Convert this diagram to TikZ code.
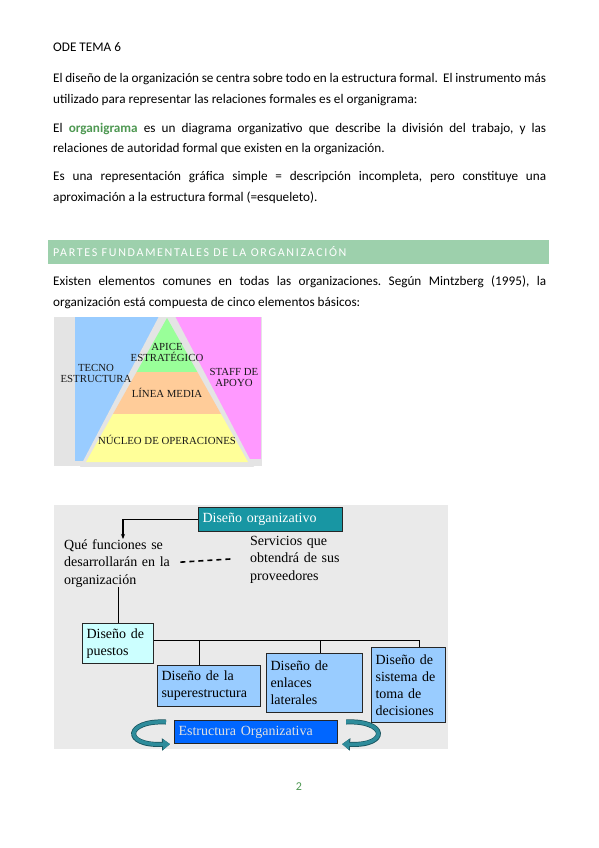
\documentclass[tikz,border=0pt]{standalone}
\usepackage{fontspec}
\setmainfont{Carlito}
\newfontfamily\tnr{Liberation Serif}
\newfontfamily\headfont[LetterSpace=14]{Carlito}
\usetikzlibrary{arrows.meta,calc}
\definecolor{hdrgreen}{RGB}{157,208,172}
\definecolor{orggreen}{RGB}{78,152,82}
\definecolor{pyrbg}{RGB}{228,228,228}
\definecolor{pyrblue}{RGB}{153,204,255}
\definecolor{pyrpink}{RGB}{255,153,255}
\definecolor{pyrgreen}{RGB}{153,255,153}
\definecolor{pyrorange}{RGB}{255,204,153}
\definecolor{pyryellow}{RGB}{255,255,153}
\definecolor{diagbg}{RGB}{234,234,234}
\definecolor{tealbox}{RGB}{24,150,163}
\definecolor{cyanbox}{RGB}{204,255,255}
\definecolor{bluebox}{RGB}{153,204,255}
\definecolor{strongblue}{RGB}{0,102,255}
\definecolor{arrteal}{RGB}{46,140,155}
\definecolor{arrdark}{RGB}{25,85,95}
\tikzset{
  body/.style={anchor=base west, inner sep=0pt, font=\fontsize{13.2}{15}\selectfont},
  pyrtext/.style={inner sep=0pt, align=center, font=\tnr\fontsize{10.8}{12}\selectfont, text=black!90},
  dtext/.style={inner sep=0pt, anchor=north west, align=left, font=\tnr\fontsize{14}{17.5}\selectfont},
  orgbox/.style={draw=black!85, line width=1.1pt, inner xsep=4pt, inner ysep=3pt, anchor=north west, align=left, font=\tnr\fontsize{14}{17}\selectfont},
  link/.style={draw=black, line width=1.1pt},
  roundarr/.style={draw=arrteal, line width=3.5pt, -{Triangle[length=7pt,width=10pt]}, preaction={draw=arrdark, line width=5pt, -{Triangle[length=8pt,width=12pt]}}}
}
\newcommand{\jline}[1]{\makebox[493pt][s]{#1}}
\frenchspacing
\begin{document}
\begin{tikzpicture}[x=1pt,y=-1pt]
\useasboundingbox[fill=white] (0,0) rectangle (599,848);

% ---------- text block ----------
\node[body] (title) at (53,52) {ODE TEMA 6};
\node[body] (p1a) at (53,83) {\jline{El diseño de la organización se centra sobre todo en la estructura formal.\ \ El instrumento más}};
\node[body] (p1b) at (53,104) {utilizado para representar las relaciones formales es el organigrama:};
\node[body] (p2a) at (53,132) {\jline{El \textcolor{orggreen}{\bfseries organigrama} es un diagrama organizativo que describe la división del trabajo, y las}};
\node[body] (p2b) at (53,153) {relaciones de autoridad formal que existen en la organización.};
\node[body] (p3a) at (53,180) {\jline{Es una representación gráfica simple = descripción incompleta, pero constituye una}};
\node[body] (p3b) at (53,201) {aproximación a la estructura formal (=esqueleto).};

% header band
\fill[hdrgreen] (48,240) rectangle (549,264);
\node[anchor=base west, inner sep=0pt, text=white, font=\headfont\fontsize{12}{14}\selectfont] (hdr) at (53,256) {PARTES FUNDAMENTALES DE LA ORGANIZACIÓN};

\node[body] (p4a) at (53,285) {\jline{Existen elementos comunes en todas las organizaciones. Según Mintzberg (1995), la}};
\node[body] (p4b) at (53,306) {organización está compuesta de cinco elementos básicos:};

% ---------- pyramid ----------
\begin{scope}
\clip (54,317) rectangle (262,466);
\fill[pyrbg] (54,317) rectangle (262,466);
\fill[pyrblue] (75,317) rectangle (175,461);
\fill[pyrpink] (160,317) rectangle (261,459);
\fill[pyrbg] (167,301) -- (80,467) -- (254,467) -- cycle;
\fill[pyrgreen] (167,318) -- (136.6,372) -- (197.4,372) -- cycle;
\fill[pyrorange] (136.6,372) -- (113,414) -- (221,414) -- (197.4,372) -- cycle;
\fill[pyryellow] (113,414) -- (86,462) -- (248,462) -- (221,414) -- cycle;
\end{scope}
\node[pyrtext] (apice) at (167,352) {APICE\\[-1pt]ESTRATÉGICO};
\node[pyrtext] (tecno) at (96,373) {TECNO\\[-1pt]ESTRUCTURA};
\node[pyrtext] (staff) at (234,377) {STAFF DE\\[-1pt]APOYO};
\node[pyrtext] (linea) at (167,393) {LÍNEA MEDIA};
\node[pyrtext] (nucleo) at (167,440) {NÚCLEO DE OPERACIONES};

% ---------- organisational design diagram ----------
\fill[diagbg] (54,505) rectangle (448,749);

\node[orgbox, fill=tealbox, text=white, text width=136pt, minimum height=24pt] (do) at (198,507) {Diseño organizativo};
\node[dtext, text width=118pt] (qf) at (64,539) {Qué funciones se\\desarrollarán en la\\organización};
\node[dtext, text width=110pt] (sv) at (250,536) {Servicios que\\obtendrá de sus\\proveedores};

\node[orgbox, fill=cyanbox, text width=63pt, minimum height=40pt] (dp) at (82,623) {Diseño de\\puestos};
\node[orgbox, fill=bluebox, text width=95pt, minimum height=41pt] (ss) at (157,665) {Diseño de la\\superestructura};
\node[orgbox, fill=bluebox, text width=88pt, minimum height=59pt] (el) at (266,653) {Diseño de\\enlaces\\laterales};
\node[orgbox, fill=bluebox, text width=66pt, minimum height=75pt] (dd) at (371,647) {Diseño de\\sistema de\\toma de\\decisiones};
\node[orgbox, fill=strongblue, text=white!88!black, text width=155pt, minimum height=23pt] (eo) at (174,720) {Estructura Organizativa};

% connectors
\coordinate (qfin) at ($(qf.north west)+(59,0)$);
\draw[link, -{Stealth[length=5pt,width=4pt]}] (do.west) -| (qfin);
\coordinate (dsA) at ($(qf.east)+(-2,-1)$);
\coordinate (dsB) at ($(sv.west)+(-17,-1)$);
\draw[draw=black, line width=1.6pt, dash pattern=on 5pt off 4pt] (dsA) -- (dsB);
\draw[link] (dp.north) -- (dp.north |- qf.south);
\coordinate (tk1) at ($(ss.north)+(-10,0)$);
\coordinate (tk2) at ($(el.north)+(6,0)$);
\coordinate (tk3) at ($(dd.north)+(11,0)$);
\coordinate (busA) at ($(dp.east)+(0,-3)$);
\draw[link] (busA) -- (tk3 |- busA);
\draw[link] (tk1 |- busA) -- (tk1);
\draw[link] (tk2 |- busA) -- (tk2);
\draw[link] (tk3 |- busA) -- (tk3);

\coordinate (la1) at ($(eo.north west)+(-8,2)$);
\coordinate (la2) at ($(eo.south west)+(-4,0)$);
\coordinate (ra1) at ($(eo.north east)+(8,2)$);
\coordinate (ra2) at ($(eo.south east)+(4,0)$);
\draw[roundarr] (la1) .. controls (125,720) and (122,746) .. (la2);
\draw[roundarr] (ra1) .. controls (387,720) and (390,746) .. (ra2);

\node[inner sep=0pt, text=orggreen, font=\fontsize{12}{14}\selectfont] (pnum) at (299,787) {2};
\end{tikzpicture}
\end{document}
